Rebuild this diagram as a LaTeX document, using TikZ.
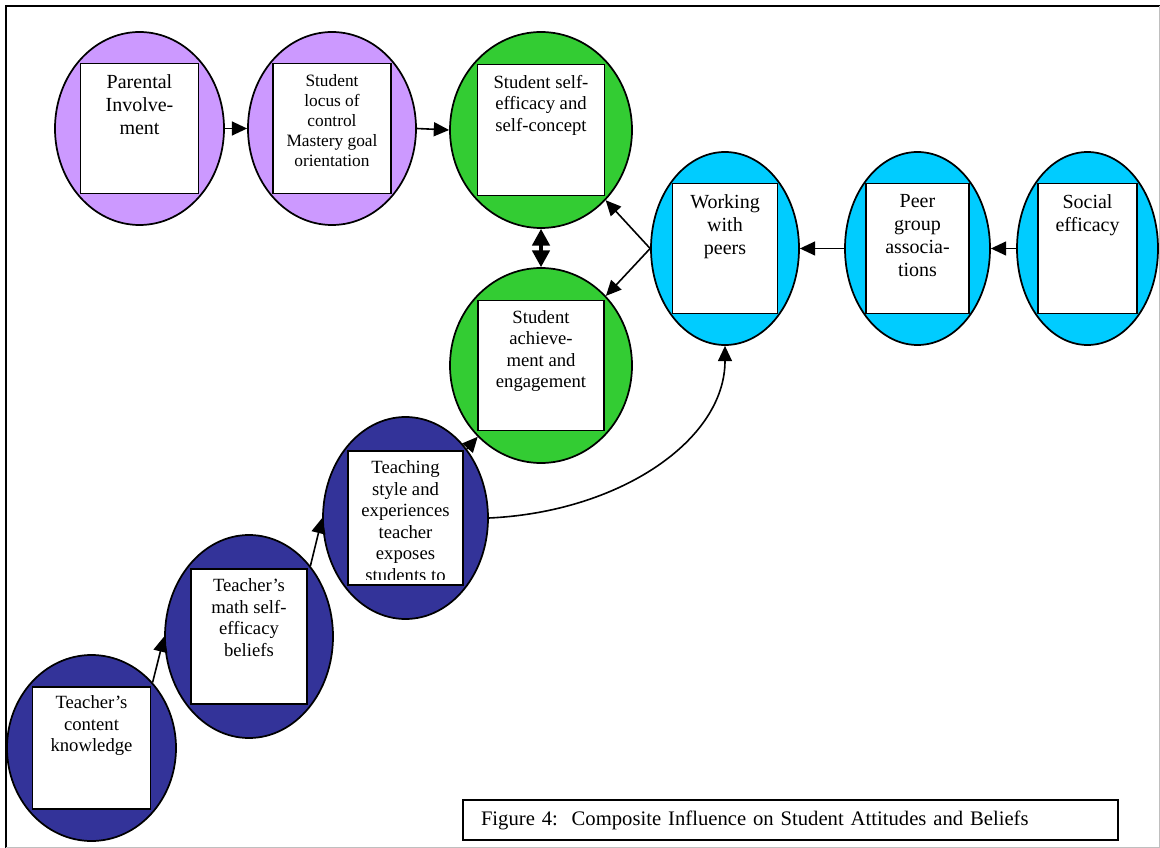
\documentclass[tikz,border=0pt]{standalone}
\usepackage{fontspec}
\setmainfont{Liberation Serif}
\usepackage{tikz}
\usetikzlibrary{shapes.geometric}
\usetikzlibrary{arrows.meta}
\usetikzlibrary{positioning}
\usepackage{xcolor}
\definecolor{lilac}{RGB}{204,153,255}
\definecolor{leaf}{RGB}{51,204,51}
\definecolor{sky}{RGB}{0,204,255}
\definecolor{navy}{RGB}{51,51,153}

\begin{document}
\begin{tikzpicture}[x=0.75pt,y=-0.75pt,
  bub/.style={ellipse,draw,line width=1.3pt,inner sep=0pt},
  card/.style={rectangle,draw,fill=white,line width=1.3pt,inner sep=0pt},
  txt/.style={inner sep=0pt,align=center,font=\fontsize{14}{16.1}\selectfont},
  big/.style={font=\fontsize{15}{17.4}\selectfont},
  small/.style={font=\fontsize{13}{14.9}\selectfont},
  arr/.style={-{Triangle[length=11.5pt,width=10.5pt]},line width=1.2pt},
  dbl/.style={{Triangle[length=12.5pt,width=13pt]}-{Triangle[length=12.5pt,width=13pt]},line width=2.5pt}]

\useasboundingbox (0,0) rectangle (1160,848);
\fill[white] (0,0) rectangle (1160,848);
\draw[line width=1.7pt] (6,848) -- (6,6) -- (1160,6);
\draw[black!25,line width=0.75pt] (1159.5,6) -- (1159.5,847.5) -- (6,847.5);

% top row
\node[bub,fill=lilac,minimum width=126.75pt,minimum height=144.75pt] (pi) at (139.5,128.5) {};
\node[card,minimum width=88.5pt,minimum height=97.5pt] (pibox) at (pi) {};
\node[txt,big,below=8.5pt of pibox.north] (pitxt) {Parental\\Involve-\\ment};

\node[bub,fill=lilac,minimum width=126pt,minimum height=144.75pt] (lc) at (332,128.5) {};
\node[card,minimum width=88.5pt,minimum height=97.5pt] (lcbox) at (lc) {};
\node[txt,small,below=9pt of lcbox.north] (lctxt) {Student\\locus of\\control\\Mastery goal\\orientation};

\node[bub,fill=leaf,minimum width=136.5pt,minimum height=147pt] (sse) at (541,130) {};
\node[card,minimum width=95.25pt,minimum height=98.25pt] (ssebox) at (sse) {};
\node[txt,below=8.5pt of ssebox.north] (ssetxt) {Student self-\\efficacy and\\self-concept};

\node[bub,fill=leaf,minimum width=136.5pt,minimum height=146.25pt] (sae) at (541,365.5) {};
\node[card,minimum width=94.5pt,minimum height=97.5pt] (saebox) at (sae) {};
\node[txt,below=7.75pt of saebox.north] (saetxt) {Student\\achieve-\\ment and\\engagement};

% peers
\node[bub,fill=sky,minimum width=111pt,minimum height=144.75pt] (wp) at (725,248.5) {};
\node[card,minimum width=78.75pt,minimum height=97.5pt] (wpbox) at (wp) {};
\node[txt,big,below=8.5pt of wpbox.north] (wptxt) {Working\\with\\peers};

\node[bub,fill=sky,minimum width=108.75pt,minimum height=144.75pt] (pg) at (917.5,248.5) {};
\node[card,minimum width=77.25pt,minimum height=97.5pt] (pgbox) at (pg) {};
\node[txt,big,below=8.5pt of pgbox.north] (pgtxt) {Peer\\group\\associa-\\tions};

\node[bub,fill=sky,minimum width=105.75pt,minimum height=144.75pt] (se) at (1087.5,248.5) {};
\node[card,minimum width=74.25pt,minimum height=97.5pt] (sebox) at (se) {};
\node[txt,big,below=8.5pt of sebox.north] (setxt) {Social\\efficacy};

% teacher
\node[bub,fill=navy,minimum width=123.75pt,minimum height=151.5pt] (ts) at (405.5,518) {};
\node[card,minimum width=86.25pt,minimum height=100.5pt] (tsbox) at (ts) {};
\begin{scope}
\clip (tsbox.north west) rectangle ([yshift=4.5pt]tsbox.south east);
\node[txt,below=7.75pt of tsbox.north] (tstxt) {Teaching\\style and\\experiences\\teacher\\exposes\\students to};
\end{scope}

\node[bub,fill=navy,minimum width=126pt,minimum height=152.25pt] (tmb) at (249,636.5) {};
\node[card,minimum width=87pt,minimum height=101.25pt] (tmbbox) at (tmb) {};
\node[txt,below=7.75pt of tmbbox.north] (tmbtxt) {Teacher’s\\math self-\\efficacy\\beliefs};

\node[bub,fill=navy,minimum width=126.75pt,minimum height=139.5pt] (tck) at (91.5,748) {};
\node[card,minimum width=88.5pt,minimum height=91.5pt] (tckbox) at (tck) {};
\node[txt,below=7pt of tckbox.north] (tcktxt) {Teacher’s\\content\\knowledge};

\node[draw,line width=1.3pt,minimum width=491.25pt,minimum height=30pt,text width=464.25pt,inner xsep=13.5pt,align=left,font=\fontsize{15.5}{18}\selectfont] (cap) at (790.5,820) {Figure 4:\ \ Composite Influence on Student Attitudes and Beliefs};

% links
\draw[arr] (pi) -- (lc);
\draw[arr] (lc.east) -- (sse.west);
\draw[dbl] (sse) -- (sae);
\draw[arr] (wp.west) -- (sse);
\draw[arr] (wp.west) -- (sae);
\draw[arr] (pg) -- (wp);
\draw[arr] (se) -- (pg);
\draw[arr] (tck.47) -- (tmb.west);
\draw[arr] (tmb.49) -- (ts.west);
\draw[arr] (ts) -- (sae);
\draw[arr] (ts.east) .. controls (620,512) and (725,440) .. (wp.south);
\end{tikzpicture}
\end{document}
